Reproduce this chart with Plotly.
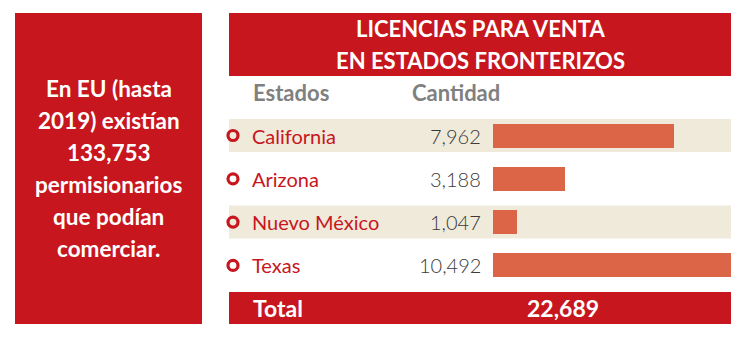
import plotly.graph_objects as go

# Data
estados = ["California", "Arizona", "Nuevo México", "Texas"]
cantidad = [7962, 3188, 1047, 10492]
titulo = ["LICENCIAS PARA VENTA", "EN ESTADOS FRONTERIZOS"]
nota = ["En EU (hasta", "2019) existían", "133,753", "permisionarios", "que podían", "comerciar."]
encabezados = ["Estados", "Cantidad"]

RED = "#C7161D"
BAR = "#DC6547"
BAND = "#F0EADB"
GRAY = "#808080"
NUM = "#3a3a3a"
FONT = "Lato"

W, H = 750, 341
row_y = [135.5 + 43.3 * i for i in range(len(estados))]

fig = go.Figure()

shapes = []
# left note box
shapes.append(dict(type="rect", xref="x", yref="y", x0=15, x1=202, y0=13, y1=324,
                   fillcolor=RED, line_width=0, layer="below"))
# title box
shapes.append(dict(type="rect", xref="x", yref="y", x0=229, x1=731, y0=13, y1=76,
                   fillcolor=RED, line_width=0, layer="below"))
# alternating row bands
for i, y in enumerate(row_y):
    if i % 2 == 0:
        shapes.append(dict(type="rect", xref="x", yref="y", x0=229, x1=731,
                           y0=y - 16.5, y1=y + 16.5, fillcolor=BAND, line_width=0, layer="below"))
# total box
shapes.append(dict(type="rect", xref="x", yref="y", x0=229, x1=731, y0=292, y1=324,
                   fillcolor=RED, line_width=0, layer="below"))

# bars
fig.add_trace(go.Bar(
    x=cantidad, y=row_y, orientation="h", width=24,
    marker=dict(color=BAR, line_width=0),
    xaxis="x2", yaxis="y", hoverinfo="skip", showlegend=False,
))

# ring bullets
fig.add_trace(go.Scatter(
    x=[233] * len(estados), y=row_y, mode="markers",
    marker=dict(symbol="circle-open", size=10, color=RED, line=dict(width=3.2, color=RED)),
    hoverinfo="skip", showlegend=False,
))

ann = []
for i, line in enumerate(titulo):
    ann.append(dict(x=480, y=28 + 32 * i, text=line, xref="x", yref="y", showarrow=False,
                    xanchor="center", yanchor="middle",
                    font=dict(family=FONT, size=22, color="white", weight="bold")))
for i, line in enumerate(nota):
    ann.append(dict(x=108.5, y=88 + 32 * i, text=line, xref="x", yref="y", showarrow=False,
                    xanchor="center", yanchor="middle",
                    font=dict(family=FONT, size=22.5, color="white", weight="bold")))
for x, h in zip([251, 410], encabezados):
    ann.append(dict(x=x, y=92, text=h, xref="x", yref="y", showarrow=False,
                    xanchor="left", yanchor="middle",
                    font=dict(family=FONT, size=22, color=GRAY, weight="bold")))
for y, e, v in zip(row_y, estados, cantidad):
    ann.append(dict(x=250, y=y, text=e, xref="x", yref="y", showarrow=False,
                    xanchor="left", yanchor="middle",
                    font=dict(family=FONT, size=20, color=RED)))
    ann.append(dict(x=483, y=y, text=f"{v:,}", xref="x", yref="y", showarrow=False,
                    xanchor="right", yanchor="middle",
                    font=dict(family=FONT, size=20, color=NUM, weight=300)))
ann.append(dict(x=251, y=308, text="Total", xref="x", yref="y", showarrow=False,
                xanchor="left", yanchor="middle",
                font=dict(family=FONT, size=23, color="white", weight="bold")))
ann.append(dict(x=563, y=308, text=f"{sum(cantidad):,}", xref="x", yref="y", showarrow=False,
                xanchor="center", yanchor="middle",
                font=dict(family=FONT, size=23, color="white", weight="bold")))

fig.update_layout(
    width=W, height=H,
    margin=dict(l=0, r=0, t=0, b=0),
    paper_bgcolor="white", plot_bgcolor="rgba(0,0,0,0)",
    shapes=shapes, annotations=ann,
    xaxis=dict(range=[0, W], visible=False, fixedrange=True),
    yaxis=dict(range=[H, 0], visible=False, fixedrange=True),
    xaxis2=dict(domain=[493 / W, 731 / W], range=[0, max(cantidad)], anchor="y",
                visible=False, fixedrange=True),
    bargap=0,
)

fig.write_html("out.html", config={"displayModeBar": False})
